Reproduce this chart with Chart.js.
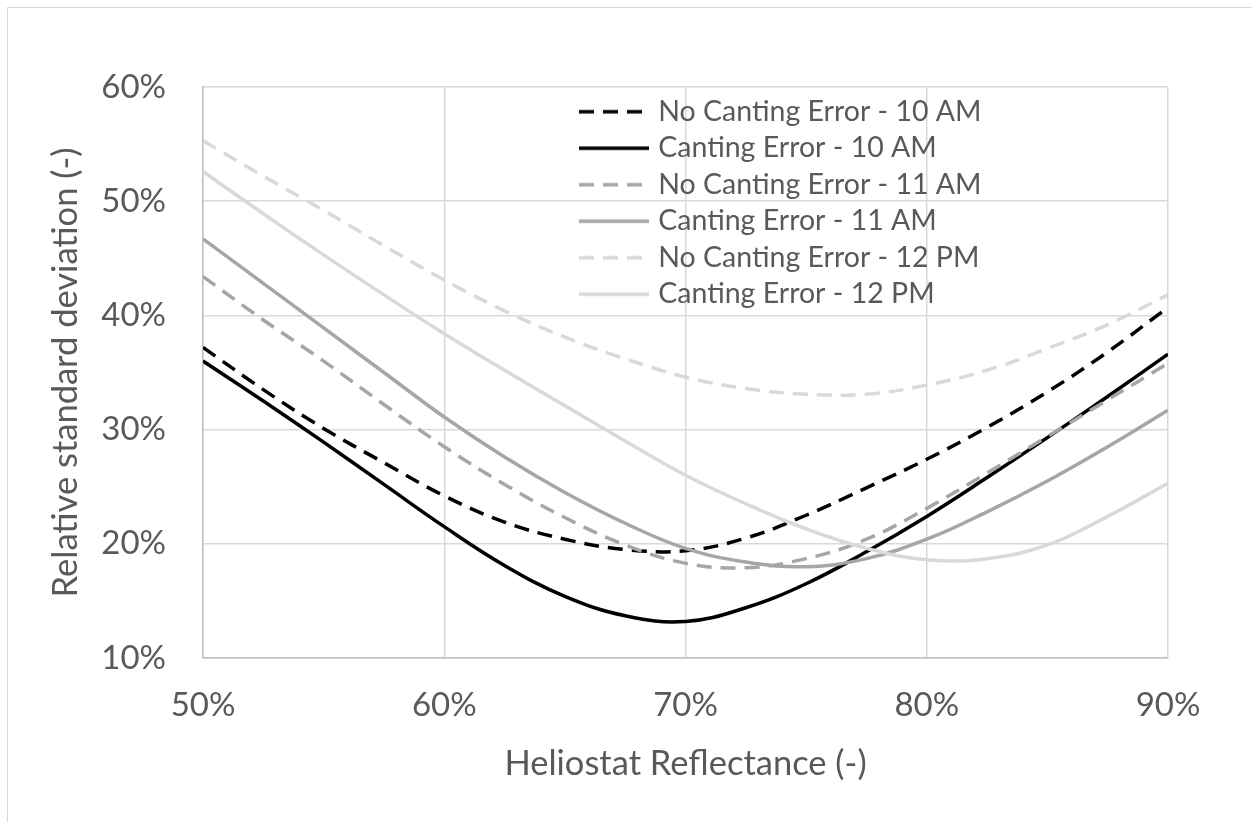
<!DOCTYPE html>
<html>
<head>
<meta charset="utf-8">
<script src="https://cdn.jsdelivr.net/npm/chart.js@4.4.1/dist/chart.umd.min.js"></script>
<style>
    body { margin: 0; background: #ffffff; }
    #wrap { position: relative; width: 1252px; height: 822px; overflow: hidden; }
    #frame {
        position: absolute; left: 7px; top: 7px; width: 1400px; height: 1000px;
        border-top: 1.5px solid #d9d9d9; border-left: 1.5px solid #d9d9d9;
    }
    #chart { position: absolute; left: 0; top: 0; }
</style>
</head>
<body>
<div id="wrap">
    <div id="frame"></div>
    <canvas id="chart" width="1252" height="822"></canvas>
</div>
<script>
// Heliostat reflectance (%) on the x axis
const reflectance = [50, 52.5, 55, 57.5, 60, 62.5, 65, 67.5, 70, 72.5, 75, 77.5, 80, 82.5, 85, 87.5, 90];

// relative standard deviation (%)
const noCant10 = [37.2, 33.5, 30.1, 27.1, 24.2, 21.9, 20.4, 19.5, 19.4, 20.5, 22.5, 24.9, 27.4, 30.2, 33.3, 36.8, 40.7];
const cant10   = [36.0, 32.5, 28.9, 25.2, 21.5, 18.1, 15.4, 13.7, 13.2, 14.4, 16.5, 19.3, 22.4, 25.8, 29.3, 32.9, 36.6];
const noCant11 = [43.4, 39.6, 36.0, 32.2, 28.5, 25.2, 22.3, 19.9, 18.3, 17.9, 18.7, 20.4, 23.1, 26.2, 29.4, 32.6, 35.8];
const cant11   = [46.7, 42.8, 38.9, 35.0, 31.1, 27.6, 24.5, 21.8, 19.6, 18.4, 18.0, 18.7, 20.4, 22.8, 25.5, 28.5, 31.7];
const noCant12 = [55.3, 52.2, 49.2, 46.1, 43.1, 40.4, 38.1, 36.2, 34.6, 33.6, 33.1, 33.1, 33.9, 35.2, 37.1, 39.2, 41.8];
const cant12   = [52.6, 48.9, 45.3, 41.8, 38.4, 35.2, 32.1, 29.0, 26.0, 23.5, 21.3, 19.6, 18.6, 18.7, 19.9, 22.4, 25.3];

const seriesNames = [
    "No Canting Error - 10 AM",
    "Canting Error - 10 AM",
    "No Canting Error - 11 AM",
    "Canting Error - 11 AM",
    "No Canting Error - 12 PM",
    "Canting Error - 12 PM"
];
const seriesValues = [noCant10, cant10, noCant11, cant11, noCant12, cant12];
const seriesColors = ["#000000", "#000000", "#a6a6a6", "#a6a6a6", "#d9d9d9", "#d9d9d9"];
const seriesDashed = [true, false, true, false, true, false];

const xTicks = [50, 60, 70, 80, 90];
const yTicks = [10, 20, 30, 40, 50, 60];

const textColor = "#595959";
const fontFamily = "Lato, 'Open Sans', sans-serif";
const dash = [15, 9];
const lineW = 3.5;

// small picture of the line for the legend (keeps the dash pattern)
function legendLine(color, dashed) {
    const c = document.createElement("canvas");
    c.width = 70;
    c.height = 6;
    const g = c.getContext("2d");
    g.strokeStyle = color;
    g.lineWidth = lineW;
    if (dashed) g.setLineDash(dash);
    g.beginPath();
    g.moveTo(0, 3);
    g.lineTo(70, 3);
    g.stroke();
    return c;
}

const datasets = seriesNames.map((name, i) => ({
    label: name,
    data: reflectance.map((x, j) => ({ x: x, y: seriesValues[i][j] })),
    borderColor: seriesColors[i],
    backgroundColor: seriesColors[i],
    borderWidth: lineW,
    borderDash: seriesDashed[i] ? dash : [],
    pointRadius: 0,
    pointStyle: legendLine(seriesColors[i], seriesDashed[i]),
    tension: 0.4,
    fill: false,
    order: seriesNames.length - i // later series drawn on top, like the original
}));

// put the legend in the upper right part of the plot
const legendPlacer = {
    id: "legendPlacer",
    afterLayout(chart) {
        const lg = chart.legend;
        lg.left = 576;
        lg.top = 89.5;
        lg.right = chart.chartArea.right;
        lg.bottom = chart.chartArea.bottom;
    }
};

new Chart(document.getElementById("chart"), {
    type: "line",
    data: { datasets: datasets },
    plugins: [legendPlacer],
    options: {
        responsive: false,
        animation: false,
        layout: { padding: { left: 0, top: 87, right: 84, bottom: 0 } },
        plugins: {
            tooltip: { enabled: false },
            legend: {
                position: "chartArea",
                align: "start",
                labels: {
                    usePointStyle: true,
                    pointStyleWidth: 60,
                    padding: 8,
                    color: textColor,
                    font: { family: fontFamily, size: 28.5 },
                    sort: (a, b) => a.datasetIndex - b.datasetIndex
                }
            }
        },
        scales: {
            x: {
                type: "linear",
                min: xTicks[0],
                max: xTicks[xTicks.length - 1],
                afterBuildTicks: (axis) => { axis.ticks = xTicks.map(v => ({ value: v })); },
                afterFit: (axis) => { axis.height = 164; },
                grid: { color: "#d9d9d9", lineWidth: 1.5, drawTicks: false },
                border: { color: "#bfbfbf", width: 1.5 },
                ticks: {
                    padding: 28,
                    color: textColor,
                    font: { family: fontFamily, size: 33 },
                    callback: (v) => v + "%"
                },
                title: {
                    display: true,
                    text: "Heliostat Reflectance (-)",
                    color: textColor,
                    font: { family: fontFamily, size: 34.5 },
                    padding: { top: 0, bottom: 37 }
                }
            },
            y: {
                type: "linear",
                min: yTicks[0],
                max: yTicks[yTicks.length - 1],
                afterBuildTicks: (axis) => { axis.ticks = yTicks.map(v => ({ value: v })); },
                afterFit: (axis) => { axis.width = 203; },
                grid: { color: "#d9d9d9", lineWidth: 1.5, drawTicks: false },
                border: { color: "#bfbfbf", width: 1.5 },
                ticks: {
                    padding: 37,
                    color: textColor,
                    font: { family: fontFamily, size: 33 },
                    callback: (v) => v + "%"
                },
                title: {
                    display: true,
                    text: "Relative standard deviation (-)",
                    color: textColor,
                    font: { family: fontFamily, size: 34.5 },
                    padding: { top: 45, bottom: 0 }
                }
            }
        }
    }
});
</script>
</body>
</html>
